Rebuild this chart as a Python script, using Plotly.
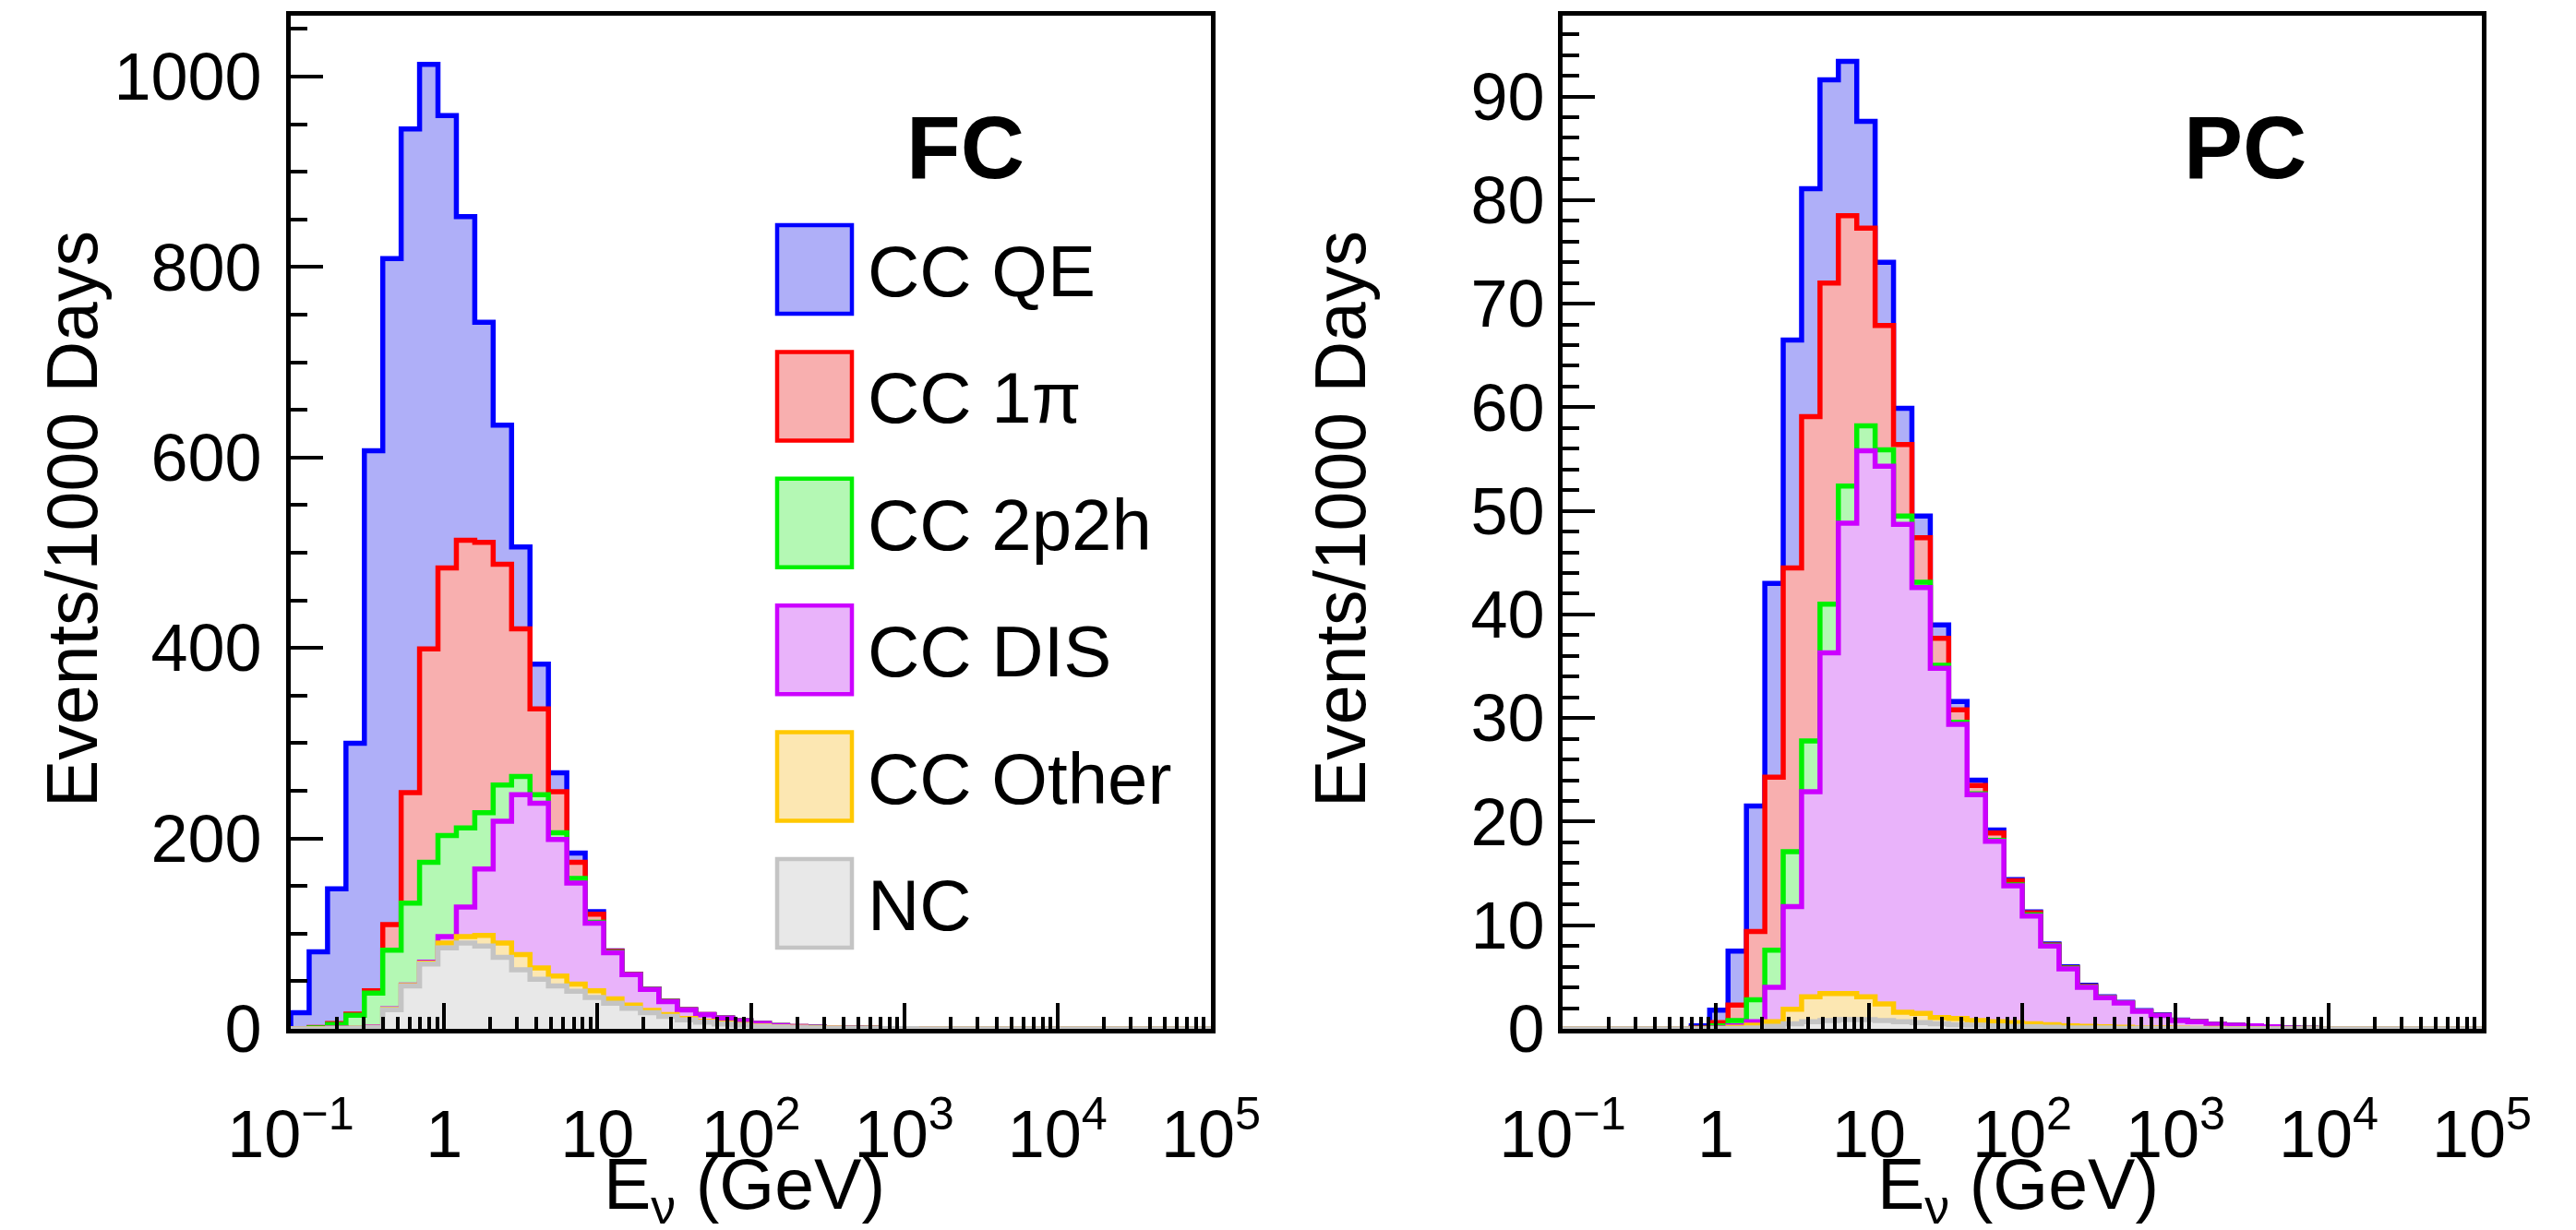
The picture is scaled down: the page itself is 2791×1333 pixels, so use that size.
import numpy as np
import plotly.graph_objects as go

# ---------------- data ----------------
# 50 logarithmic bins from 10^-1 to 10^5 GeV
E_LO_EXP, E_HI_EXP, N_BINS = -1, 5, 50
bin_edges = np.logspace(E_LO_EXP, E_HI_EXP, N_BINS + 1)

categories = ["CC QE", "CC 1π", "CC 2p2h", "CC DIS", "CC Other", "NC"]

# FC sample, events / 1000 days per bin (component values, stacked in the plot)
fc_cc_qe = [17, 79.5, 141.5, 284.5, 567, 699.5, 697, 614, 475, 340, 231, 146, 86, 47, 20, 9.5, 2.5, 0.5, 0.2]
fc_cc_1pi = [0, 0.5, 0.8, 1.2, 2.4, 27, 116, 224, 281, 302, 284, 232, 155, 90, 43, 17, 8.5, 1, 0.3, 0.4,
             0.2, 0.2, 0.2, 0.2, 0.1, 0.1, 0.1, 0.1, 0.1, 0.1]
fc_cc_2p2h = [0, 0.7, 3.7, 13.8, 35.6, 61.5, 86, 105, 106, 83, 59, 38, 19, 9, 7, 5, 1, 0.5, 0, 0.1, 0.1]
fc_cc_dis = [0, 0.1, 0.4, 0.1, 0.5, 0.5, 0.5, 1, 7, 31, 70, 128, 168, 173, 143.5, 106, 71, 48.5, 32, 22,
             13.7, 8.8, 6.8, 5.3, 3.9, 2.7, 1.1, 0.7, 0.4, 0.2, 0.2, 0.1, 0.05, 0.05, 0.05]
fc_cc_other = [0, 0.1, 0.2, 0.1, 0.3, 0.5, 0.5, 1, 5, 7, 11, 15, 16, 12, 10.5, 7.5, 7, 4.5, 3.5, 2.5,
               2, 1.5, 1, 0.8, 0.7, 0.5, 0.3, 0.2, 0.2, 0.2, 0.1, 0.05, 0.05, 0.05]
fc_nc = [0, 0.1, 0.4, 0.3, 1.2, 20, 45, 68, 85, 90, 87, 75, 62, 52, 45, 39.5, 33, 27, 21.5, 17,
         13, 9.5, 7, 5.2, 3.8, 2.7, 1.9, 1.4, 1.0, 0.7, 0.5, 0.35, 0.25, 0.15, 0.1, 0.05]

# PC sample
pc_cc_qe = [0, 0, 0, 0, 0, 0, 0, 0.2, 1.2, 5.2, 12.1, 18.7, 22.0, 22.0, 19.6, 14.9, 10.3, 6.1, 3.5, 2.1,
            1.3, 0.8, 0.5, 0.3, 0.1, 0.1, 0.1, 0.1, 0.1, 0.05, 0.05, 0.05, 0.05, 0.05]
pc_cc_1pi = [0, 0, 0, 0, 0, 0, 0, 0.05, 0.3, 1.5, 6.6, 16.7, 27.4, 31.3, 31.0, 26.1, 19.1, 12.0, 6.9, 4.3,
             2.6, 1.2, 0.8, 0.7, 0.4, 0.2, 0.05, 0.05, 0.05, 0.03]
pc_cc_2p2h = [0, 0, 0, 0, 0, 0, 0, 0.05, 0.2, 0.5, 2.1, 3.6, 5.3, 4.9, 4.7, 3.6, 2.4, 1.6, 0.8, 0.5,
              0.3, 0.2, 0.1, 0.1, 0.1, 0.1, 0.05, 0.05, 0.05, 0.02]
pc_cc_dis = [0, 0, 0, 0, 0, 0, 0, 0, 0.05, 0.15, 0.35, 3.3, 9.9, 19.8, 32.9, 45.4, 52.7, 51.9, 47.1, 41.1,
             33.7, 28.4, 21.8, 17.4, 13.2, 10.4, 7.6, 5.5, 3.75, 2.8, 2.35, 1.6, 1.22, 0.74, 0.65, 0.41,
             0.33, 0.28, 0.19, 0.1, 0.05]
pc_cc_other = [0, 0, 0, 0, 0, 0, 0, 0, 0.03, 0.1, 0.25, 0.45, 1.4, 2.4, 2.6, 2.5, 2.2, 1.6, 0.9, 0.9,
               0.6, 0.6, 0.45, 0.4, 0.35, 0.3, 0.25, 0.2, 0.15, 0.12, 0.1, 0.05, 0.05, 0.04, 0.03, 0.03,
               0.02, 0.02, 0.01]
pc_nc = [0, 0, 0, 0, 0, 0, 0, 0, 0.02, 0.05, 0.1, 0.25, 0.5, 0.7, 0.8, 0.9, 0.9, 0.8, 0.7, 0.6,
         0.5, 0.4, 0.35, 0.3, 0.25, 0.2, 0.15, 0.1, 0.1, 0.08, 0.05, 0.05, 0.03, 0.02, 0.02, 0.01]

x_tick_vals = [0.1, 1, 10, 100, 1e3, 1e4, 1e5]
x_tick_text = ["10<sup>−1</sup>", "1", "10", "10<sup>2</sup>", "10<sup>3</sup>", "10<sup>4</sup>", "10<sup>5</sup>"]
panel_labels = ["FC", "PC"]

# ---------------- style ----------------
line_colors = ["#0000ff", "#ff0000", "#00f000", "#cc00ff", "#ffc800", "#c4c4c4"]
fill_colors = ["#afaff8", "#f8afaf", "#b4f8b4", "#e9b3fa", "#fce7b2", "#e8e8e8"]
FONT = "Liberation Sans, Arial, Helvetica, sans-serif"
W, H = 2791, 1333


def full(vals):
    a = np.zeros(N_BINS)
    a[:len(vals)] = vals
    return a


def px(p):
    return p / W


def py(p):
    return 1 - p / H


fig = go.Figure()

panels = [
    ([fc_cc_qe, fc_cc_1pi, fc_cc_2p2h, fc_cc_dis, fc_cc_other, fc_nc], "x", "y"),
    ([pc_cc_qe, pc_cc_1pi, pc_cc_2p2h, pc_cc_dis, pc_cc_other, pc_nc], "x2", "y2"),
]

for comps, xa, ya in panels:
    comps = [full(c) for c in comps]
    # stack: NC at bottom ... CC QE on top
    cum = {}
    running = np.zeros(N_BINS)
    for i in range(len(comps) - 1, -1, -1):
        running = running + comps[i]
        cum[i] = running.copy()
    for i in range(len(comps)):
        v = cum[i]
        xs = [bin_edges[0]] + list(bin_edges[:-1]) + [bin_edges[-1], bin_edges[-1]]
        ys = [0] + list(v) + [v[-1], 0]
        fig.add_trace(go.Scatter(
            x=xs, y=ys, mode="lines", line=dict(shape="hv", color=line_colors[i], width=5.5),
            fill="tozeroy", fillcolor=fill_colors[i], xaxis=xa, yaxis=ya,
            name=categories[i], showlegend=False, hoverinfo="skip"))

minor_x = [m * 10.0 ** d for d in range(-1, 5) for m in range(2, 10)]

xcommon = dict(type="log", range=[-1, 5], tickmode="array", tickvals=x_tick_vals, ticktext=x_tick_text,
               ticks="inside", ticklen=28, tickwidth=4, tickcolor="black",
               showline=True, linewidth=5, linecolor="black", mirror=True,
               showgrid=False, zeroline=False, automargin=False,
               tickfont=dict(size=72, family=FONT, color="black"),
               ticklabelstandoff=48,
               minor=dict(tickmode="array", tickvals=minor_x, ticks="inside", ticklen=13,
                          tickwidth=3.5, tickcolor="black", showgrid=False))

ycommon = dict(ticks="inside", ticklen=35, tickwidth=4, tickcolor="black",
               showline=True, linewidth=5, linecolor="black", mirror=True,
               showgrid=False, zeroline=False, automargin=False,
               tickfont=dict(size=72, family=FONT, color="black"))

ydom = [py(1115), py(17)]
fig.update_layout(
    template="none",
    width=W, height=H, margin=dict(l=0, r=0, t=0, b=0, pad=0, autoexpand=False),
    paper_bgcolor="white", plot_bgcolor="white",
    xaxis=dict(domain=[px(315), px(1312)], anchor="y", **xcommon),
    xaxis2=dict(domain=[px(1693), px(2689)], anchor="y2", **xcommon),
    yaxis=dict(domain=ydom, anchor="x", range=[0, 1064], tickmode="linear", tick0=0, dtick=200,
               ticklabelstandoff=12,
               minor=dict(dtick=50, tick0=0, ticks="inside", ticklen=18, tickwidth=4, tickcolor="black"),
               **ycommon),
    yaxis2=dict(domain=ydom, anchor="x2", range=[0, 97.8], tickmode="linear", tick0=0, dtick=10,
                ticklabelstandoff=0,
                minor=dict(dtick=2, tick0=0, ticks="inside", ticklen=18, tickwidth=4, tickcolor="black"),
                **ycommon),
    showlegend=False,
)

annotations = []
# axis titles
for xc in [807, 2186]:
    annotations.append(dict(x=px(xc), y=py(1288), xref="paper", yref="paper",
                            text="E<sub>ν</sub> (GeV)", showarrow=False, xanchor="center", yanchor="middle",
                            font=dict(size=77, family=FONT, color="black")))
for xc in [78, 1452]:
    annotations.append(dict(x=px(xc), y=py(563), xref="paper", yref="paper",
                            text="Events/1000 Days", textangle=-90, showarrow=False,
                            xanchor="center", yanchor="middle",
                            font=dict(size=77, family=FONT, color="black")))
# panel labels
for lab, xc in zip(panel_labels, [1046, 2432]):
    annotations.append(dict(x=px(xc), y=py(160), xref="paper", yref="paper",
                            text="<b>%s</b>" % lab, showarrow=False, xanchor="center", yanchor="middle",
                            font=dict(size=96, family=FONT, color="black")))

# legend (drawn in the FC panel)
shapes = []
for i, name in enumerate(categories):
    top = 244 + 137.4 * i
    shapes.append(dict(type="rect", xref="paper", yref="paper",
                       x0=px(842), x1=px(923), y0=py(top + 96), y1=py(top),
                       fillcolor=fill_colors[i], line=dict(color=line_colors[i], width=4.5)))
    annotations.append(dict(x=px(938), y=py(top + 50), xref="paper", yref="paper",
                            text=name, showarrow=False, xanchor="left", yanchor="middle",
                            font=dict(size=78, family=FONT, color="black")))

fig.update_layout(annotations=annotations, shapes=shapes)
fig.write_html("out.html")
